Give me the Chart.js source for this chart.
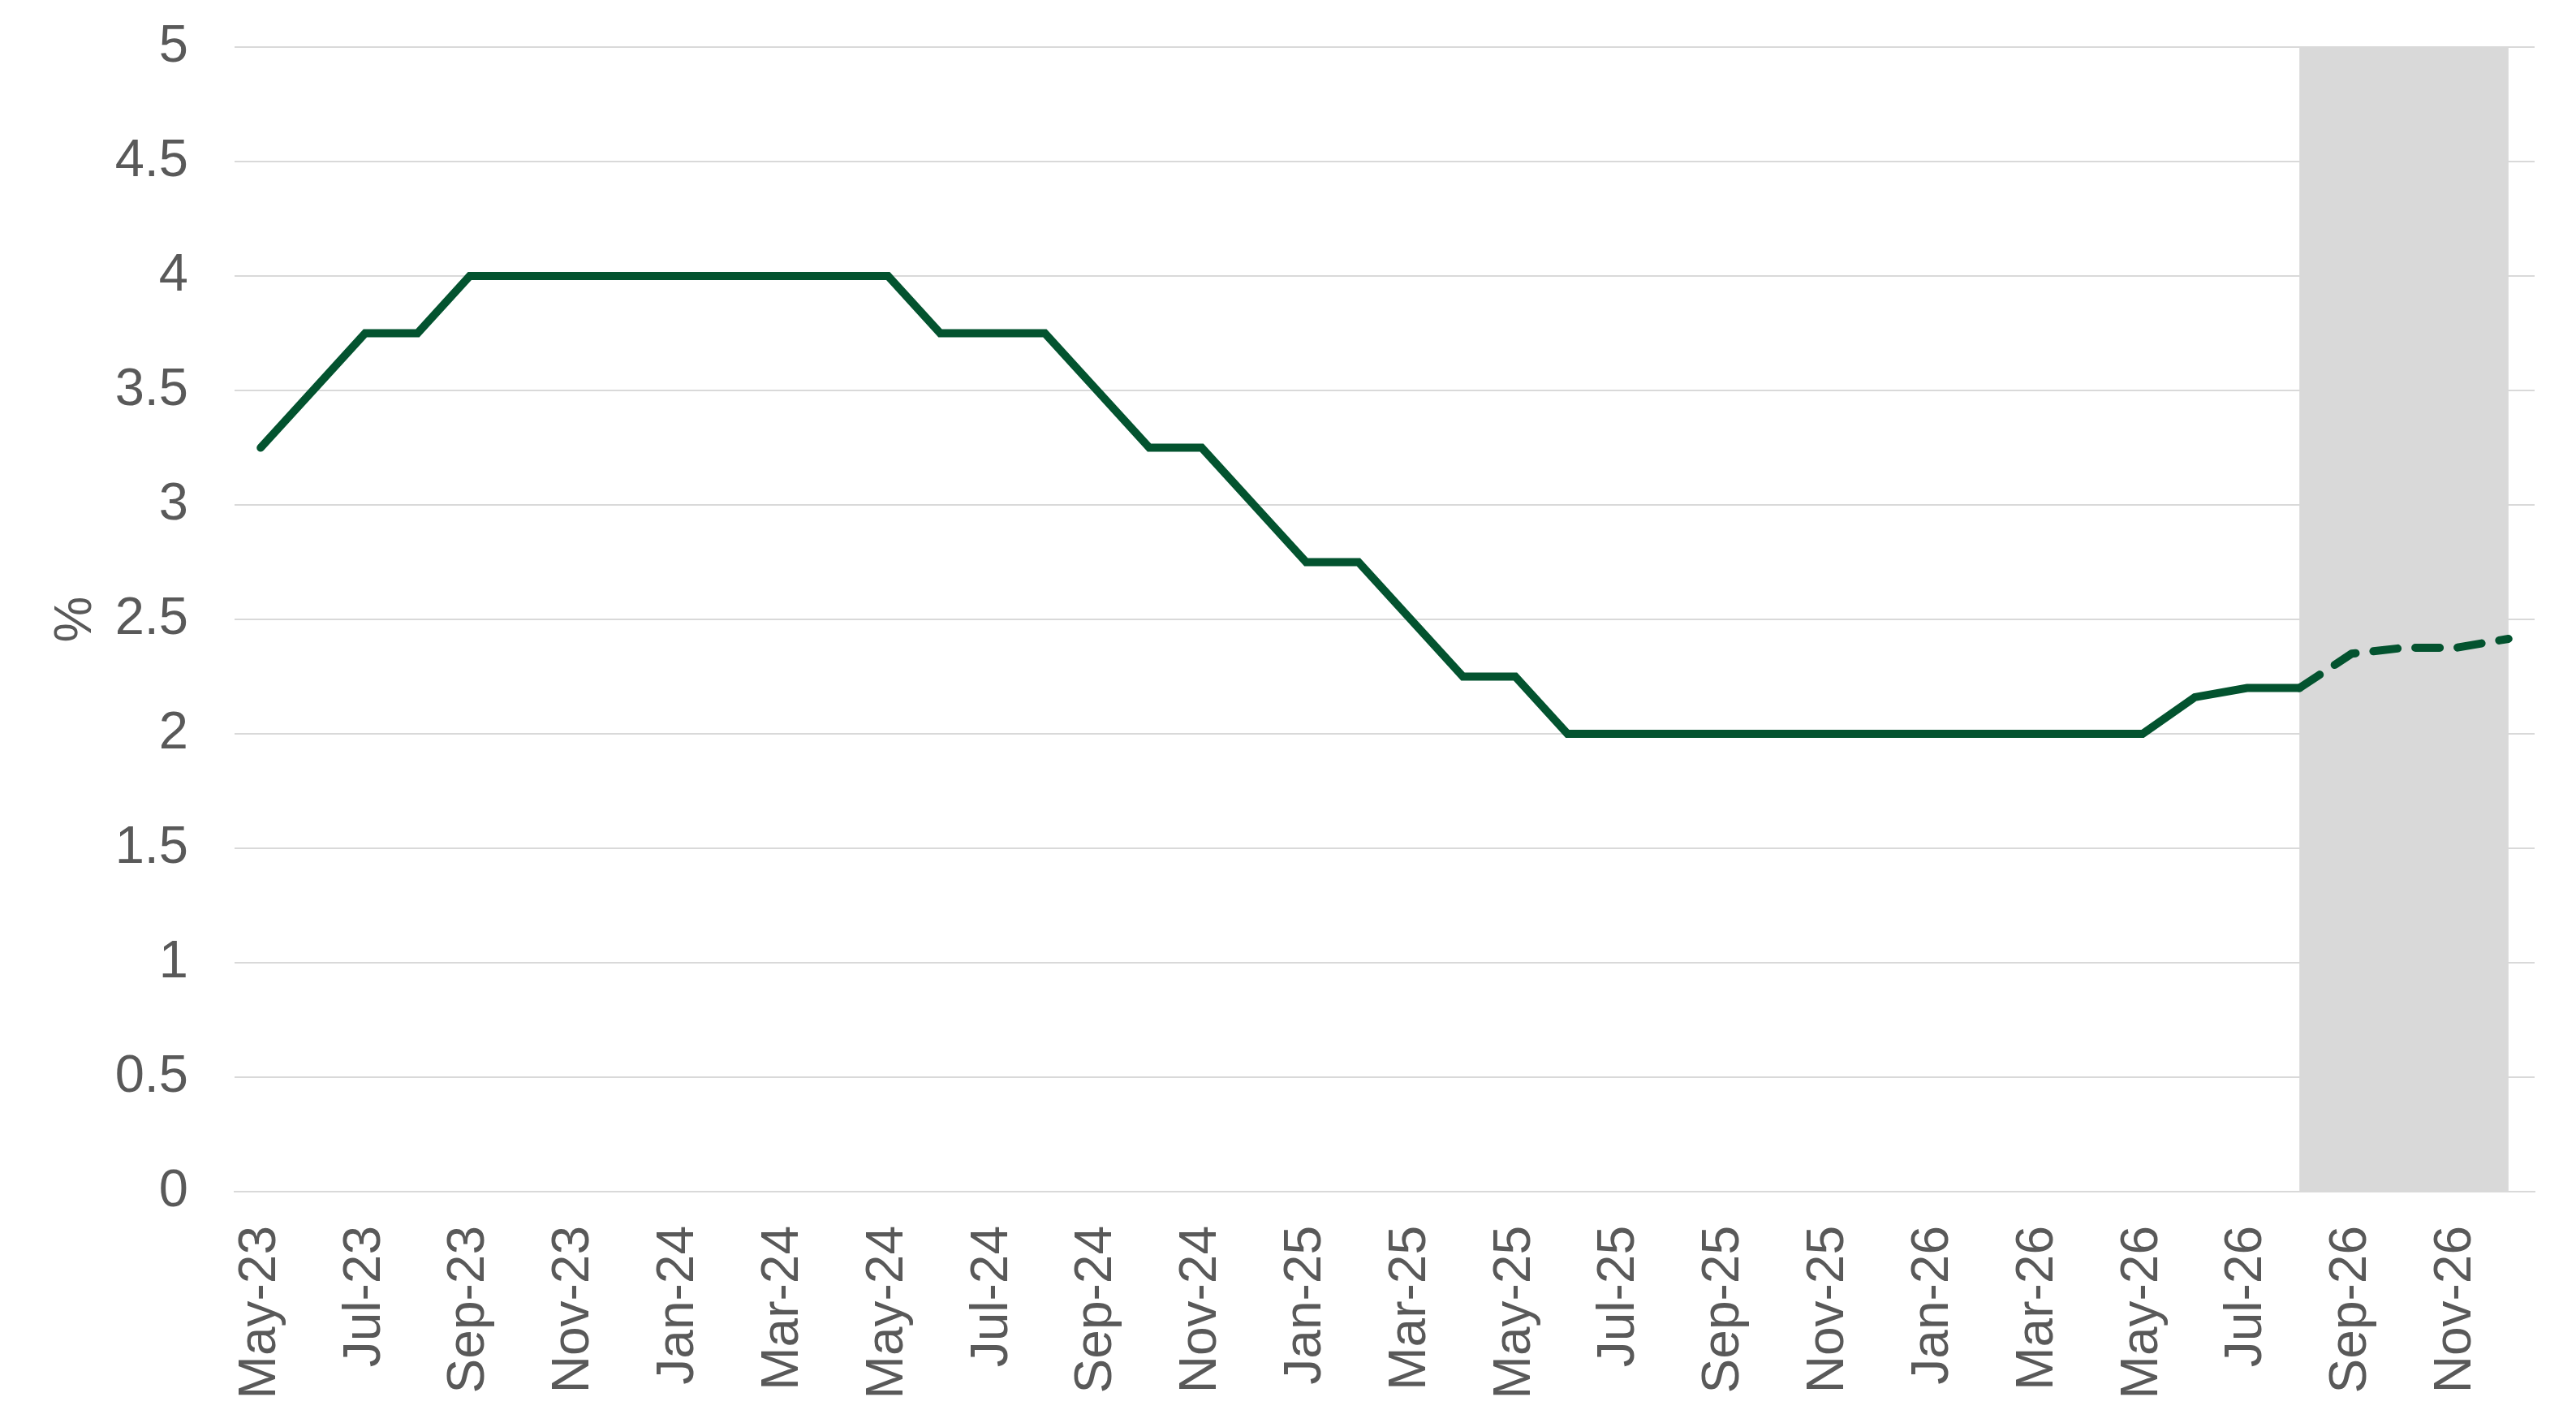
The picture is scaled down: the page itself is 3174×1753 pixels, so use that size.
<!DOCTYPE html>
<html>
<head>
<meta charset="utf-8">
<script src="https://cdn.jsdelivr.net/npm/chart.js@4"></script>
<style>
  html, body { margin: 0; padding: 0; background: #ffffff; }
  #wrap { width: 3174px; height: 1753px; }
</style>
</head>
<body>
<div id="wrap"><canvas id="c" width="3174" height="1753"></canvas></div>
<script>
const months = [
  'May-23','Jun-23','Jul-23','Aug-23','Sep-23','Oct-23','Nov-23','Dec-23',
  'Jan-24','Feb-24','Mar-24','Apr-24','May-24','Jun-24','Jul-24','Aug-24','Sep-24','Oct-24','Nov-24','Dec-24',
  'Jan-25','Feb-25','Mar-25','Apr-25','May-25','Jun-25','Jul-25','Aug-25','Sep-25','Oct-25','Nov-25','Dec-25',
  'Jan-26','Feb-26','Mar-26','Apr-26','May-26','Jun-26','Jul-26','Aug-26','Sep-26','Oct-26','Nov-26','Dec-26'
];
// Actual policy rate, May-23 .. Aug-26
const actualValues = [
  3.25, 3.5, 3.75, 3.75, 4.0, 4.0, 4.0, 4.0,
  4.0, 4.0, 4.0, 4.0, 4.0, 3.75, 3.75, 3.75, 3.5, 3.25, 3.25, 3.0,
  2.75, 2.75, 2.5, 2.25, 2.25, 2.0, 2.0, 2.0, 2.0, 2.0, 2.0, 2.0,
  2.0, 2.0, 2.0, 2.0, 2.0, 2.16, 2.2, 2.2
];
// Forecast, Aug-26 .. Dec-26
const forecastStart = 'Aug-26';
const forecastValues = [2.2, 2.35, 2.376, 2.376, 2.415];
const yTicks = [0, 0.5, 1, 1.5, 2, 2.5, 3, 3.5, 4, 4.5, 5];

const startIdx = months.indexOf(forecastStart);
const actualData = months.map((m, i) => i < actualValues.length ? actualValues[i] : null);
const forecastData = months.map((m, i) => i >= startIdx ? forecastValues[i - startIdx] : null);

const FONT = "'Liberation Sans', Arial, sans-serif";
const TXT = '#595959';
const LINE = '#03532f';
const CLEAR = 'rgba(0,0,0,0)';

const shadePlugin = {
  id: 'shade',
  beforeDatasetsDraw(chart) {
    const x = chart.scales.x, ca = chart.chartArea, ctx = chart.ctx;
    const x0 = x.getPixelForValue(startIdx);
    const x1 = x.getPixelForValue(months.length - 1);
    ctx.save();
    ctx.fillStyle = '#d9d9d9';
    ctx.fillRect(x0, ca.top, x1 - x0, ca.bottom - ca.top);
    ctx.restore();
  }
};

new Chart(document.getElementById('c'), {
  type: 'line',
  data: {
    labels: months,
    datasets: [
      {
        data: actualData,
        borderColor: LINE,
        borderWidth: 10,
        pointRadius: 0,
        tension: 0,
        spanGaps: false,
        borderCapStyle: 'round',
        borderJoinStyle: 'miter'
      },
      {
        data: forecastData,
        borderColor: LINE,
        borderWidth: 10,
        pointRadius: 0,
        tension: 0,
        borderDash: [30, 22],
        borderCapStyle: 'round',
        borderJoinStyle: 'round'
      }
    ]
  },
  options: {
    responsive: false,
    animation: false,
    events: [],
    layout: { padding: { top: 58, right: 51, bottom: 0, left: 0 } },
    plugins: { legend: { display: false }, tooltip: { enabled: false } },
    scales: {
      x: {
        type: 'category',
        offset: true,
        grid: { display: true, color: CLEAR, tickColor: CLEAR, drawTicks: true, tickLength: 42, offset: false },
        border: { display: true, color: '#d9d9d9', width: 2 },
        ticks: {
          autoSkip: false,
          minRotation: 90,
          maxRotation: 90,
          padding: 0,
          color: TXT,
          font: { family: FONT, size: 64 },
          callback: function (v, i) { return i % 2 === 0 ? months[i] : ''; }
        },
        afterFit: function (s) { s.height = 1753 - 1468; }
      },
      y: {
        min: 0,
        max: 5,
        afterBuildTicks: function (s) { s.ticks = yTicks.map(v => ({ value: v })); },
        grid: { color: '#d9d9d9', lineWidth: 2, drawTicks: true, tickLength: 57, tickColor: CLEAR },
        border: { display: false },
        ticks: {
          padding: 0,
          color: TXT,
          font: { family: FONT, size: 65 },
          callback: function (v) { return String(v); }
        },
        title: {
          display: true,
          text: '%',
          color: TXT,
          font: { family: FONT, size: 64 },
          padding: { top: 56, bottom: 0 }
        },
        afterFit: function (s) { s.width = 289; }
      }
    }
  },
  plugins: [shadePlugin]
});
</script>
</body>
</html>
